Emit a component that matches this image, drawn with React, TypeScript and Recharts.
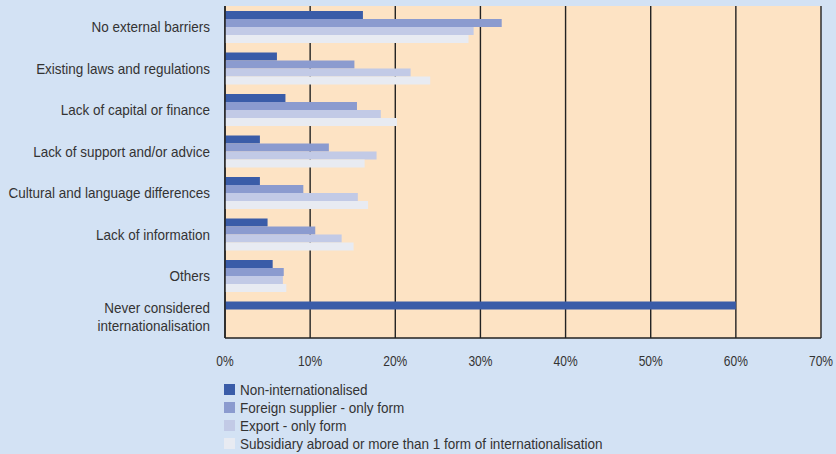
import React from "react"
import { BarChart, Bar, XAxis, YAxis, CartesianGrid, Legend } from "recharts"

const categories = [
  "No external barriers",
  "Existing laws and regulations",
  "Lack of capital or finance",
  "Lack of support and/or advice",
  "Cultural and language differences",
  "Lack of information",
  "Others",
  "Never considered\ninternationalisation",
]

const nonInternationalised = [16.2, 6.1, 7.1, 4.1, 4.1, 5.0, 5.6, 60.0]
const foreignSupplier = [32.5, 15.2, 15.5, 12.2, 9.2, 10.6, 6.9, null]
const exportOnly = [29.2, 21.8, 18.3, 17.8, 15.6, 13.7, 6.8, null]
const subsidiary = [28.6, 24.1, 20.2, 16.4, 16.8, 15.1, 7.2, null]

const xTicks = [0, 10, 20, 30, 40, 50, 60, 70]

const seriesLabels = [
  "Non-internationalised",
  "Foreign supplier - only form",
  "Export - only form",
  "Subsidiary abroad or more than 1 form of internationalisation",
]

const data = categories.map((name, i) => ({
  name,
  nonInt: nonInternationalised[i],
  foreign: foreignSupplier[i],
  exportOnly: exportOnly[i],
  subsidiary: subsidiary[i],
}))

const FONT = "'Liberation Sans', Arial, sans-serif"
const TEXT = "#333333"

// the original uses a condensed face; squeeze the text horizontally
function CategoryTick({ x, y, payload }: any) {
  const lines = String(payload.value).split("\n")
  const offsets = lines.length > 1 ? [-10, 8] : [0]
  return (
    <g>
      {lines.map((line, i) => (
        <text
          key={i}
          transform={`translate(${x},${y + offsets[i]}) scale(0.9,1)`}
          dy="0.35em"
          textAnchor="end"
          fill={TEXT}
          fontSize={15}
          fontFamily={FONT}
        >
          {line}
        </text>
      ))}
    </g>
  )
}

function PercentTick({ x, y, payload }: any) {
  return (
    <text
      transform={`translate(${x},${y}) scale(0.86,1)`}
      dy="0.71em"
      textAnchor="middle"
      fill={TEXT}
      fontSize={14}
      fontFamily={FONT}
    >
      {`${payload.value}%`}
    </text>
  )
}

function LegendList({ payload }: any) {
  const items = (payload || [])
    .slice()
    .sort((a: any, b: any) => seriesLabels.indexOf(a.value) - seriesLabels.indexOf(b.value))
  return (
    <div style={{ height: 72, fontFamily: FONT, fontSize: 15, color: TEXT }}>
      {items.map((p: any) => (
        <div key={p.value} style={{ display: "flex", alignItems: "center", height: 18 }}>
          <span
            style={{
              display: "inline-block",
              width: 11,
              height: 11,
              background: p.color,
              marginRight: 5,
              flex: "none",
            }}
          />
          <span
            style={{
              display: "inline-block",
              whiteSpace: "nowrap",
              transform: "scaleX(0.9)",
              transformOrigin: "left center",
            }}
          >
            {p.value}
          </span>
        </div>
      ))}
    </div>
  )
}

export default function App() {
  return (
    <div
      style={{
        position: "absolute",
        left: 0,
        top: 0,
        width: 836,
        height: 454,
        background: "#d3e2f4",
        overflow: "hidden",
      }}
    >
      <BarChart
        width={836}
        height={454}
        data={data}
        layout="vertical"
        margin={{ top: 6, right: 15, left: 0, bottom: 14 }}
        barSize={8}
        barGap={0}
      >
        <CartesianGrid
          horizontal={false}
          vertical={true}
          fill="#fde3c4"
          fillOpacity={1}
          stroke="#222222"
          strokeWidth={1.4}
        />
        <XAxis
          type="number"
          domain={[0, 70]}
          ticks={xTicks}
          tickLine={false}
          tickSize={0}
          tickMargin={18}
          axisLine={{ stroke: "#222222", strokeWidth: 1.5 }}
          height={30}
          interval={0}
          tick={<PercentTick />}
        />
        <XAxis
          xAxisId="top"
          orientation="top"
          type="number"
          domain={[0, 70]}
          tick={false}
          tickLine={false}
          height={0}
          axisLine={{ stroke: "#3a3a3a", strokeWidth: 2 }}
        />
        <YAxis
          type="category"
          dataKey="name"
          width={225}
          tickLine={false}
          tickSize={0}
          tickMargin={15}
          interval={0}
          axisLine={{ stroke: "#222222", strokeWidth: 1.5 }}
          tick={<CategoryTick />}
        />
        <Legend
          verticalAlign="bottom"
          align="left"
          layout="horizontal"
          content={<LegendList />}
          wrapperStyle={{ top: 380, left: 224, bottom: "auto", width: "auto" }}
        />
        <Bar dataKey="nonInt" name={seriesLabels[0]} fill="#3a5ca8" isAnimationActive={false} />
        <Bar dataKey="foreign" name={seriesLabels[1]} fill="#8b9bcf" isAnimationActive={false} />
        <Bar dataKey="exportOnly" name={seriesLabels[2]} fill="#c2cae6" isAnimationActive={false} />
        <Bar dataKey="subsidiary" name={seriesLabels[3]} fill="#e8ebf2" isAnimationActive={false} />
      </BarChart>
    </div>
  )
}
